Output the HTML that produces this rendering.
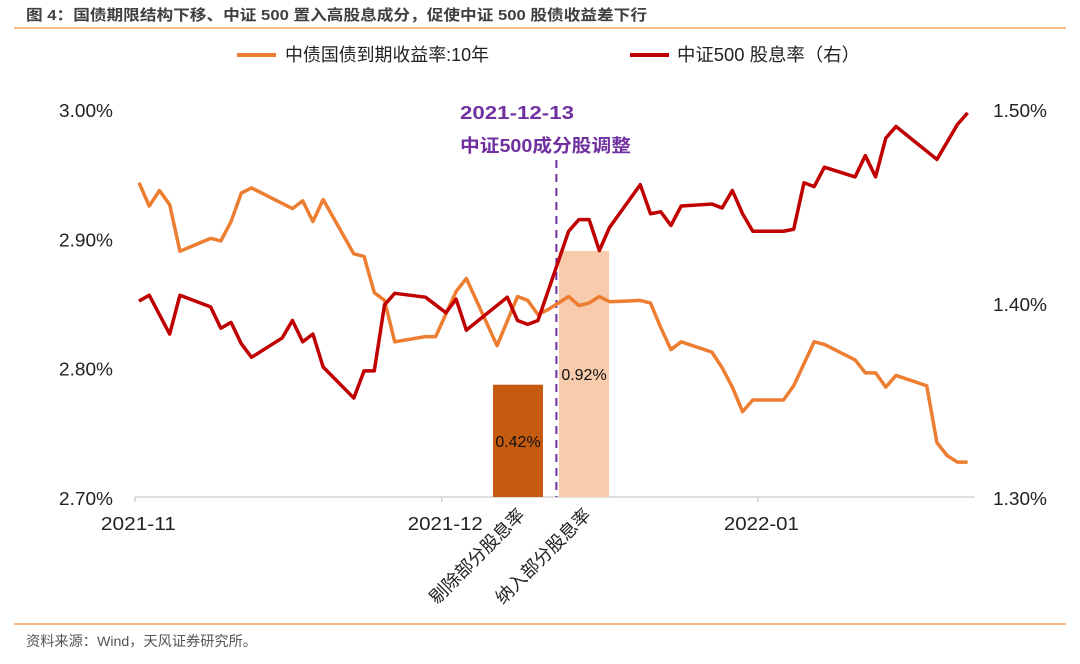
<!DOCTYPE html>
<html><head><meta charset="utf-8"><style>
html,body{margin:0;padding:0;background:#fff;}
body{width:1080px;height:659px;overflow:hidden;position:relative;font-family:"Liberation Sans","Noto Sans CJK SC",sans-serif;}
</style></head><body>
<svg id="chart" width="1080" height="659" xmlns="http://www.w3.org/2000/svg" font-family="Liberation Sans, Noto Sans CJK SC, sans-serif">
<text x="26" y="20" font-size="15" font-weight="bold" fill="#404040" textLength="621" lengthAdjust="spacingAndGlyphs">图 4：国债期限结构下移、中证 500 置入高股息成分，促使中证 500 股债收益差下行</text>
<line x1="14" y1="28" x2="1066" y2="28" stroke="#f4a460" stroke-width="1.5"/>
<line x1="237" y1="55" x2="276" y2="55" stroke="#ed7d31" stroke-width="4"/>
<text x="285" y="61" font-size="18" fill="#222" textLength="204" lengthAdjust="spacingAndGlyphs">中债国债到期收益率:10年</text>
<line x1="630" y1="55" x2="669" y2="55" stroke="#c00000" stroke-width="4"/>
<text x="677" y="61" font-size="18" fill="#222" textLength="183" lengthAdjust="spacingAndGlyphs">中证500 股息率（右）</text>
<g id="plot"></g>
<text x="460" y="119" font-size="18" font-weight="bold" fill="#7030a0" textLength="114" lengthAdjust="spacingAndGlyphs">2021-12-13</text>
<text x="460" y="152" font-size="18" font-weight="bold" fill="#7030a0" textLength="171" lengthAdjust="spacingAndGlyphs">中证500成分股调整</text>
<line x1="14" y1="624" x2="1066" y2="624" stroke="#f4a460" stroke-width="1.5"/>
<text x="26" y="646" font-size="14" fill="#555" textLength="231" lengthAdjust="spacingAndGlyphs">资料来源：Wind，天风证券研究所。</text>
</svg>
<script>
const yieldDays=[0,1,2,3,4,7,8,9,10,11,14,15,16,17,18,21,22,23,24,25,28,29,31,32,35,37,38,39,40,42,43,44,45,46,49,50,51,52,53,56,57,58,59,60,63,64,66,67,70,71,72,73,74,77,78,79,80,81];
const yieldVals=[2.943,2.925,2.937,2.926,2.890,2.900,2.898,2.913,2.935,2.939,2.927,2.923,2.929,2.913,2.930,2.888,2.886,2.858,2.852,2.820,2.824,2.824,2.859,2.869,2.817,2.855,2.852,2.841,2.845,2.855,2.848,2.850,2.855,2.851,2.852,2.850,2.831,2.814,2.820,2.812,2.800,2.785,2.766,2.775,2.775,2.786,2.820,2.818,2.806,2.796,2.796,2.785,2.794,2.786,2.742,2.732,2.727,2.727];
const divDays=[0,1,3,4,7,8,9,10,11,14,15,16,17,18,21,22,23,24,25,28,30,31,32,36,37,38,39,42,43,44,45,46,49,50,51,52,53,56,57,58,59,60,63,64,65,66,67,70,71,72,73,74,78,80,81];
const divVals=[1.401,1.404,1.384,1.404,1.398,1.387,1.390,1.379,1.372,1.382,1.391,1.380,1.384,1.367,1.351,1.365,1.365,1.399,1.405,1.403,1.395,1.402,1.386,1.403,1.391,1.389,1.391,1.437,1.443,1.443,1.427,1.439,1.461,1.446,1.447,1.440,1.450,1.451,1.449,1.458,1.446,1.437,1.437,1.438,1.462,1.460,1.470,1.465,1.476,1.465,1.485,1.491,1.474,1.492,1.498];
const barLabels=["剔除部分股息率","纳入部分股息率"];
const barVals=[0.42,0.92];
const barColors=["#c55a11","#f8cbad"];
const leftTicks=[2.70,2.80,2.90,3.00];
const rightTicks=[1.30,1.40,1.50];
const xTickDays=[-0.4,29.6,60.5];
const xTickLabels=["2021-11","2021-12","2022-01"];
const eventDay=40.8;

const NS="http://www.w3.org/2000/svg";
const g=document.getElementById('plot');
const X0=135,X1=975,Y0=497,Y1=109;
const xS=d=>139+d*10.23;
const yL=v=>Y0-(v-2.70)/0.30*(Y0-Y1);
const yR=v=>Y0-(v-1.30)/0.20*(Y0-Y1);
const bS=v=>v*267.4;
function mk(t,a){const e=document.createElementNS(NS,t);for(const k in a)e.setAttribute(k,a[k]);g.appendChild(e);return e;}

let ax=mk('line',{x1:X0,y1:Y0,x2:X1,y2:Y0,stroke:'#bfbfbf','stroke-width':1});


xTickDays.forEach((d,i)=>{
  const x=xS(d);
  const t=mk('line',{x1:x,y1:Y0,x2:x,y2:Y0+5,stroke:'#bfbfbf'});
  
  
  const l=mk('text',{x:x+3-37,y:530,'font-size':18,fill:'#222',textLength:75,lengthAdjust:'spacingAndGlyphs'});
  l.textContent=xTickLabels[i];
  
  
});
leftTicks.forEach(v=>{
  const l=mk('text',{x:59,y:yL(v)+8,'font-size':18,fill:'#222',textLength:54,lengthAdjust:'spacingAndGlyphs'});
  l.textContent=v.toFixed(2)+'%';
  
  
});
rightTicks.forEach(v=>{
  const l=mk('text',{x:993,y:yR(v)+8,'font-size':18,fill:'#222',textLength:54,lengthAdjust:'spacingAndGlyphs'});
  l.textContent=v.toFixed(2)+'%';
  
  
});
const barX=[493,559];
barVals.forEach((v,i)=>{
  const h=bS(v);
  const r=mk('rect',{x:barX[i],y:Y0-h,width:50,height:h,fill:barColors[i]});
  
  
  const t=mk('text',{x:barX[i]+25,y:Y0-h/2+6,'font-size':16,fill:'#111','text-anchor':'middle'});
  t.textContent=v.toFixed(2)+'%';
  
  
  const c=mk('text',{x:0,y:0,'font-size':18,fill:'#222','text-anchor':'end',transform:`translate(${barX[i]+33},${516}) rotate(-45)`});
  c.textContent=barLabels[i];
  
  
});
const ex=xS(eventDay);
const ev=mk('line',{x1:ex,y1:160,x2:ex,y2:Y0,stroke:'#7030a0','stroke-width':2,'stroke-dasharray':'8,6'});


const p1=mk('polyline',{points:yieldDays.map((d,i)=>xS(d)+','+yL(yieldVals[i])).join(' '),fill:'none',stroke:'#ed7d31','stroke-width':3.5,'stroke-linejoin':'round'});


const p2=mk('polyline',{points:divDays.map((d,i)=>xS(d)+','+yR(divVals[i])).join(' '),fill:'none',stroke:'#c00000','stroke-width':3.5,'stroke-linejoin':'round'});


</script>
</body></html>
